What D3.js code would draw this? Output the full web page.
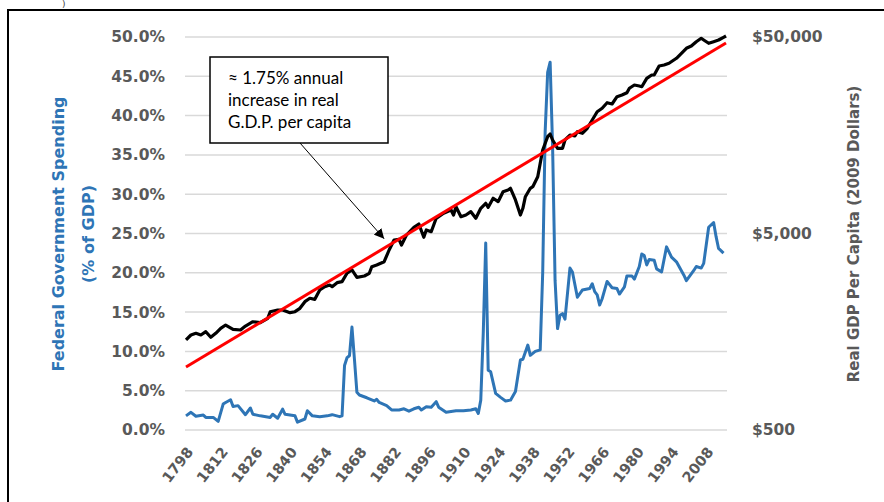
<!DOCTYPE html>
<html><head><meta charset="utf-8">
<script src="https://cdn.jsdelivr.net/npm/d3@7"></script>
<style>body{margin:0;background:#fff;overflow:hidden}</style>
</head><body><svg id="c" width="884" height="502"></svg>
<script>
// ---- data ----
const spendYears = [1798,1800,1802,1805,1806,1809,1811,1813,1814,1816,1817,1819,1822,1824,1825,1828,1832,1833,1835,1837,1838,1842,1843,1846,1847,1849,1852,1855,1857,1860,1861,1862,1863,1864,1865,1866,1867,1868,1871,1874,1875,1876,1879,1881,1884,1886,1888,1890,1892,1893,1895,1897,1899,1900,1903,1907,1910,1913,1915,1916,1917,1918,1919,1920,1921,1923,1925,1927,1929,1931,1933,1934,1936,1937,1939,1941,1942,1943,1944,1945,1946,1947,1948,1949,1950,1951,1953,1954,1956,1958,1961,1962,1963,1964,1965,1966,1968,1970,1972,1973,1975,1976,1978,1979,1981,1982,1983,1984,1985,1987,1988,1990,1992,1994,1996,1999,2000,2003,2004,2006,2007,2009,2011,2012,2013,2015];
const spendPct = [1.8,2.25,1.75,1.9,1.6,1.6,1.1,3.3,3.5,3.85,3.0,3.1,1.95,2.8,2.0,1.8,1.6,2.0,1.5,2.65,2.0,1.8,1.0,1.4,2.45,1.8,1.7,1.8,1.95,1.7,1.8,8.2,9.2,9.45,13.1,9.0,4.8,4.45,4.1,3.7,3.9,3.5,3.1,2.55,2.55,2.7,2.4,2.7,2.9,2.55,2.97,2.9,3.6,2.9,2.25,2.45,2.45,2.55,2.7,2.1,3.8,12.3,23.8,7.6,7.4,4.66,4.15,3.7,3.8,4.9,8.9,9.0,10.8,9.5,10.0,10.2,20,38,45.5,46.8,36,19,12.9,14.6,14.8,14.1,20.6,20.1,16.9,17.8,18.0,18.6,17.6,17.2,15.9,16.7,18.9,18.1,18.0,17.3,18.2,19.6,19.6,19.2,20.8,22.4,22.2,21.0,21.7,21.6,20.5,20.1,23.3,22.0,21.4,19.7,19.0,20.3,20.8,20.6,21.2,25.8,26.4,24.6,23.1,22.5];

const gdpYears = [1798,1800,1802,1804,1806,1808,1810,1812,1814,1817,1820,1822,1825,1828,1831,1832,1835,1837,1840,1842,1844,1846,1848,1850,1852,1854,1856,1857,1859,1861,1863,1865,1867,1870,1872,1873,1875,1878,1880,1882,1884,1885,1887,1890,1892,1894,1895,1897,1899,1902,1905,1906,1907,1909,1911,1913,1915,1917,1919,1920,1922,1924,1926,1928,1929,1931,1933,1934,1935,1937,1938,1940,1941,1942,1944,1945,1946,1948,1950,1951,1953,1955,1956,1958,1960,1962,1964,1966,1968,1970,1972,1974,1976,1977,1979,1981,1982,1984,1986,1987,1989,1991,1993,1996,1998,2000,2002,2004,2006,2007,2009,2011,2013,2015,2016];
const gdpPerCapita = [1436,1522,1553,1522,1582,1482,1553,1646,1711,1627,1614,1691,1778,1758,1851,2000,2040,2040,1977,2000,2081,2249,2340,2312,2580,2681,2735,2681,2810,2843,3137,3261,2992,3038,3137,3388,3457,3593,4121,4634,4672,4370,4913,5377,5590,4783,5210,5106,5974,6337,6586,6210,6843,6086,6210,6456,5974,6718,7123,6796,7553,7259,8162,8327,8491,7404,6210,6718,7696,8491,8653,9727,11386,13305,15545,16043,14956,13568,13568,14956,15856,15671,16481,16180,17157,18904,20836,21685,23151,22802,24847,25346,26037,27415,28490,28158,27927,30811,32030,32030,35595,36013,36743,38959,41300,43793,44988,47323,49247,48270,46452,47323,48270,49828,50600];

const trendYears = [1798, 2016];
const trendValues = [1046, 46600];

const xTickYears = [1798,1812,1826,1840,1854,1868,1882,1896,1910,1924,1938,1952,1966,1980,1994,2008];
const leftTicks = [0,5,10,15,20,25,30,35,40,45,50];
const rightTicks = [500,5000,50000];
const leftTitle = ["Federal Government Spending", "(% of GDP)"];
const rightTitle = "Real GDP Per Capita (2009 Dollars)";
const noteLines = ["\u2248 1.75% annual", "increase in real", "G.D.P. per capita"];
const arrowTargetYear = 1878, arrowTargetValue = 4700;

// ---- drawing ----
const svg = d3.select("#c");
const gray = "#595959", blue = "#2E75B6";
const FONT = "'DejaVu Sans', sans-serif";

const x = d3.scaleLinear().domain([1798, 2016]).range([186, 726]);
const yL = d3.scaleLinear().domain([0, 50]).range([430, 37]);
const yR = d3.scaleLog().domain([500, 50000]).range([430, 37]);

// frame
svg.append("path").attr("d", "M8,502V10H884").attr("fill", "none").attr("stroke", "#000").attr("stroke-width", 2);
svg.append("text").attr("x", 62).attr("y", 7).attr("font-family", FONT).attr("font-size", 9).attr("fill", "#404040").text(")");

// gridlines
svg.append("g").selectAll("line").data(leftTicks).join("line")
  .attr("x1", 185).attr("x2", 727)
  .attr("y1", d => yL(d)).attr("y2", d => yL(d))
  .attr("stroke", "#D9D9D9").attr("stroke-width", 1.5);

// left axis
const gL = svg.append("g").attr("transform", "translate(185,0)")
  .call(d3.axisLeft(yL).tickValues(leftTicks).tickSize(0).tickPadding(20).tickFormat(d => d.toFixed(1) + "%"));
gL.select(".domain").remove();
gL.selectAll("text").attr("font-family", FONT).attr("font-size", 15.5).attr("font-weight", "bold").attr("fill", gray);

// right axis
const gR = svg.append("g").attr("transform", "translate(727,0)")
  .call(d3.axisRight(yR).tickValues(rightTicks).tickSize(0).tickPadding(25).tickFormat(d => "$" + d3.format(",")(d)));
gR.select(".domain").remove();
gR.selectAll("text").attr("font-family", FONT).attr("font-size", 15.5).attr("font-weight", "bold").attr("fill", gray);

// x labels
svg.append("g").selectAll("text").data(xTickYears).join("text")
  .attr("transform", d => `translate(${x(d) + 8},${452}) rotate(-52)`)
  .attr("text-anchor", "end")
  .attr("font-family", FONT).attr("font-size", 14.5).attr("font-weight", "bold").attr("fill", gray)
  .text(d => d);

// titles
const lt = svg.append("text").attr("transform", "translate(0,234) rotate(-90)")
  .attr("text-anchor", "middle").attr("font-family", FONT).attr("font-weight", "bold")
  .attr("font-size", 16).attr("fill", blue);
lt.append("tspan").attr("x", 0).attr("y", 64).text(leftTitle[0]);
lt.append("tspan").attr("x", 0).attr("y", 94).text(leftTitle[1]);

svg.append("text").attr("transform", "translate(859,234) rotate(-90)")
  .attr("text-anchor", "middle").attr("font-family", FONT).attr("font-weight", "bold")
  .attr("font-size", 15).attr("fill", gray).text(rightTitle);

// lines
const lineL = d3.line().x(d => x(d[0])).y(d => yL(d[1]));
const lineR = d3.line().x(d => x(d[0])).y(d => yR(d[1]));
svg.append("path").datum(spendYears.map((yr, i) => [yr, spendPct[i]]))
  .attr("d", lineL).attr("fill", "none").attr("stroke", blue).attr("stroke-width", 3).attr("stroke-linejoin", "round");
svg.append("path").datum(gdpYears.map((yr, i) => [yr, gdpPerCapita[i]]))
  .attr("d", lineR).attr("fill", "none").attr("stroke", "#000").attr("stroke-width", 3.2).attr("stroke-linejoin", "round");
svg.append("path").datum(trendYears.map((yr, i) => [yr, trendValues[i]]))
  .attr("d", lineR).attr("fill", "none").attr("stroke", "#FF0000").attr("stroke-width", 3);

// annotation
svg.append("defs").append("marker").attr("id", "ah").attr("viewBox", "0 0 10 10")
  .attr("refX", 10).attr("refY", 5).attr("markerWidth", 10).attr("markerHeight", 10)
  .attr("markerUnits", "userSpaceOnUse").attr("orient", "auto")
  .append("path").attr("d", "M0,0L10,5L0,10z").attr("fill", "#000");
svg.append("line").attr("x1", 300).attr("y1", 143).attr("x2", x(arrowTargetYear)).attr("y2", yR(arrowTargetValue))
  .attr("stroke", "#000").attr("stroke-width", 1).attr("marker-end", "url(#ah)");
svg.append("rect").attr("x", 210).attr("y", 57).attr("width", 178).attr("height", 86)
  .attr("fill", "#fff").attr("stroke", "#000").attr("stroke-width", 1.5);
svg.append("g").selectAll("text").data(noteLines).join("text")
  .attr("x", 228).attr("y", (d, i) => 84 + i * 22)
  .attr("font-family", "Lato, sans-serif").attr("font-size", 17).attr("fill", "#000")
  .text(d => d);
</script>
</body></html>
